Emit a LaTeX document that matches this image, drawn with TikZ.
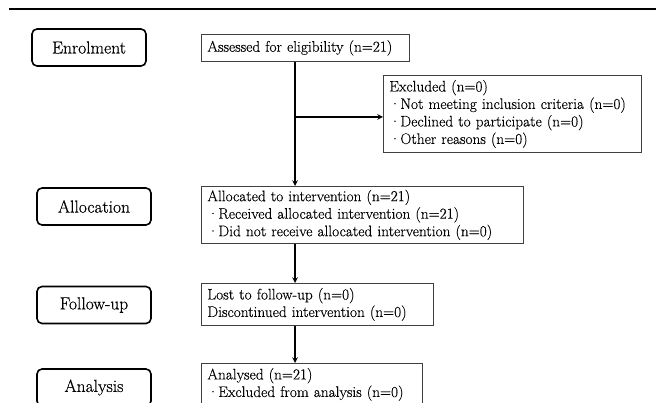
\documentclass[tikz,border=0pt]{standalone}
\usepackage{fontspec}
\newfontfamily\heavyrm{Latin Modern Roman}[FakeBold=0.5]
\newfontfamily\plainrm{Latin Modern Roman}[FakeBold=0.3]

\tikzset{
	stage/.style={draw, rectangle, rounded corners=5pt, line width=1.6pt, minimum width=114pt, minimum height=37pt, font=\heavyrm\fontsize{17.5}{20}\selectfont},
	info/.style={draw=black!75, rectangle, line width=0.8pt, anchor=north west, align=left, inner xsep=6pt, inner ysep=0pt, font=\plainrm\fontsize{15.3}{17.5}\selectfont},
	flow/.style={->, >=stealth, line width=1.5pt},
}
\newcommand{\bul}{\textperiodcentered}

\begin{document}
\begin{tikzpicture}[x=1pt, y=-1pt]
	\useasboundingbox (0, 0) rectangle (656, 403);
	\clip (0, 0) rectangle (656, 403);
	% rule at the top
	\draw[line width=2pt] (9, 8.7) -- (656, 8.7);
	% stages on the left
	\node (enrol) at (89, 47.5)		[stage]	{Enrolment};
	\node (alloc) at (94, 206.5)	[stage]	{Allocation};
	\node (follow) at (94, 305)		[stage]	{Follow-up};
	\node (analys) at (94, 387.5)	[stage]	{Analysis};
	% boxes of the flow
	\node (assess) at (201, 34)		[info, text width=196pt, minimum height=27pt]	{Assessed for eligibility (n=21)};
	\node (excl) at (383, 75)		[info, text width=246pt, minimum height=77pt]
		{Excluded (n=0)\\\bul Not meeting inclusion criteria (n=0)\\\bul Declined to participate (n=0)\\\bul Other reasons (n=0)};
	\node (given) at (201, 186)		[info, text width=310pt, minimum height=57pt]
		{Allocated to intervention (n=21)\\\bul Received allocated intervention (n=21)\\\bul Did not receive allocated intervention (n=0)};
	\node (lost) at (201, 283)		[info, text width=220pt, minimum height=42pt]
		{Lost to follow-up (n=0)\\Discontinued intervention (n=0)};
	\node (done) at (201, 363)		[info, text width=209pt, minimum height=42pt]
		{Analysed (n=21)\\\bul Excluded from analysis (n=0)};
	% connectors
	\coordinate (br) at (295, 117);
	\draw[flow] (assess.south -| br) -- (given.north -| br);
	\draw[flow] (br) -- (excl.west |- br);
	\draw[flow] (given.south -| br) -- (lost.north -| br);
	\draw[flow] (lost.south -| br) -- (done.north -| br);
\end{tikzpicture}
\end{document}
